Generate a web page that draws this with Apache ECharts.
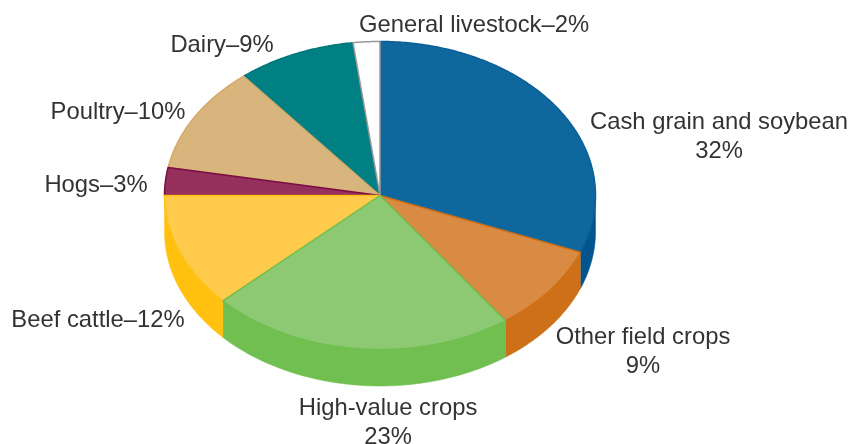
<!DOCTYPE html>
<html>
<head>
<meta charset="utf-8">
<style>html,body{margin:0;padding:0;background:#fff}#c{width:850px;height:444px}</style>
<script src="https://cdn.jsdelivr.net/npm/echarts@6/dist/echarts.min.js"></script>
</head>
<body>
<div id="c"></div>
<script>
const categories = ['Cash grain and soybean','Other field crops','High-value crops','Beef cattle','Hogs','Poultry','Dairy','General livestock'];
const drawnShares = [31, 9.1, 22.9, 12, 2.9, 11.2, 8.9, 2];
const printedPercents = [32, 9, 23, 12, 3, 10, 9, 2];
const labelFormats = ['{n}\n{p}%','{n}\n{p}%','{n}\n{p}%','{n}–{p}%','{n}–{p}%','{n}–{p}%','{n}–{p}%','{n}–{p}%'];
const topColors = ['#0e689d','#d98a43','#8dc972','#ffcb4c','#952f5c','#d9b57e','#008083','#ffffff'];
const edgeColors = ['#0a5f96','#ce7018','#70bf50','#ffc010','#7b0c46','#d7a868','#00757a','#999999'];
const sideColors = ['#00558f','#ce7018','#70bf50','#ffc010','#7b0c46','#d7a868','#00696c','#cccccc'];
const stackOrder = [1, 3, 5, 4, 3, 2, 1, 2];

const CX = 380, CY = 195.5, RX = 215.5, RY = 154, DEPTH = 36.5;
const labelPos = [[719,137],[643,352],[388,423],[98,320],[96,185],[118,112],[222,45],[474,25]];

const total = drawnShares.reduce((a, b) => a + b, 0);
const pt = (t, dy) => [CX + RX * Math.sin(t), CY - RY * Math.cos(t) + (dy || 0)];
function arc(a0, a1, dy) {
  const pts = [], n = Math.max(2, Math.ceil((a1 - a0) / 0.01));
  for (let i = 0; i <= n; i++) pts.push(pt(a0 + (a1 - a0) * i / n, dy));
  return pts;
}
function renderSlice(params, api) {
  const i = api.value(0);
  let before = 0;
  for (let k = 0; k < i; k++) before += drawnShares[k];
  const a0 = before / total * 2 * Math.PI;
  const a1 = (before + api.value(1)) / total * 2 * Math.PI;
  const children = [];
  const s0 = Math.max(a0, Math.PI / 2), s1 = Math.min(a1, 3 * Math.PI / 2);
  if (s1 - s0 > 0.01) {
    children.push({
      type: 'polygon',
      shape: { points: arc(s0, s1, 0).concat(arc(s0, s1, DEPTH).reverse()) },
      style: { fill: sideColors[i], stroke: sideColors[i], lineWidth: 0.5 }
    });
  }
  children.push({
    type: 'polygon',
    z2: 10 + stackOrder[i],
    shape: { points: [[CX, CY]].concat(arc(a0, a1, 0)) },
    style: { fill: topColors[i], stroke: edgeColors[i], lineWidth: 1.5, lineJoin: 'round' }
  });
  return { type: 'group', children };
}
const chart = echarts.init(document.getElementById('c'), null, { renderer: 'canvas' });
chart.setOption({
  animation: false,
  backgroundColor: '#fff',
  series: [{
    type: 'custom',
    coordinateSystem: 'none',
    renderItem: renderSlice,
    data: drawnShares.map((v, i) => [i, v, categories[i]])
  }],
  graphic: categories.map((c, i) => ({
    type: 'text',
    x: labelPos[i][0], y: labelPos[i][1],
    style: {
      text: labelFormats[i].replace('{n}', c).replace('{p}', printedPercents[i]),
      fill: '#333333', font: '23.8px "Liberation Sans", Arial, sans-serif',
      align: 'center', verticalAlign: 'middle', lineHeight: 29
    }
  }))
});
</script>
</body>
</html>
